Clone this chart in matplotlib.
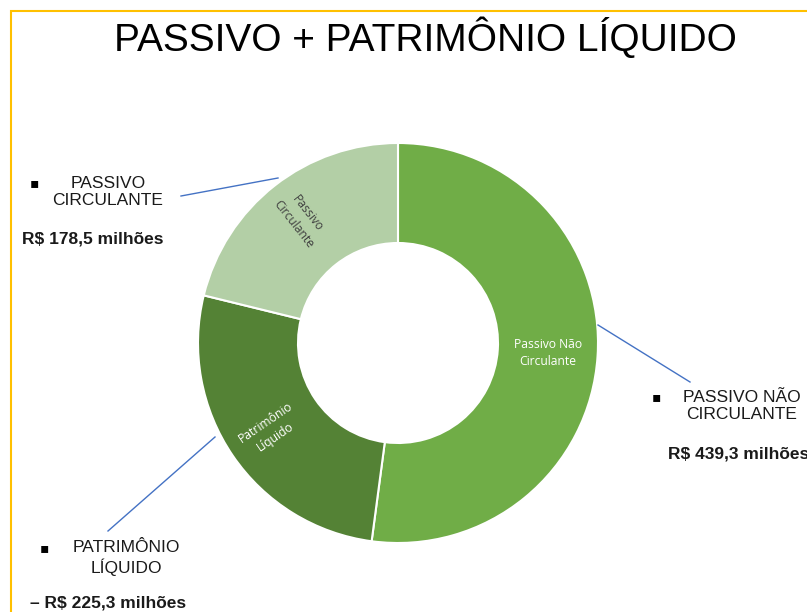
import matplotlib
matplotlib.use("Agg")
import matplotlib.pyplot as plt
from matplotlib.patches import Rectangle
from matplotlib.lines import Line2D
import numpy as np

plt.rcParams['font.family'] = ['Liberation Sans', 'DejaVu Sans']

# data
categories = ['Passivo Não\nCirculante', 'Patrimônio\nLíquido', 'Passivo\nCirculante']
values = [439.3, 225.3, 178.5]
colors = ['#70AD47', '#548235', '#B3CFA6']
label_colors = ['white', 'white', '#404040']
side_titles = ['PASSIVO NÃO\nCIRCULANTE', 'PATRIMÔNIO\nLÍQUIDO', 'PASSIVO\nCIRCULANTE']
side_values = ['R$ 439,3 milhões', '– R$ 225,3 milhões', 'R$ 178,5 milhões']

W, H = 807, 612
fig = plt.figure(figsize=(W / 100, H / 100), dpi=100)


def px(x, y):
    return x / W, 1 - y / H


# yellow frame
fig.patches.append(Rectangle(px(11, 640), 900 / W, 629 / H, transform=fig.transFigure,
                             fill=False, edgecolor='#FFC000', linewidth=1.5))

# donut
cx, cy, R = 398, 343, 200
ax = fig.add_axes([(cx - R) / W, (H - cy - R) / H, 2 * R / W, 2 * R / H])
wedges, _ = ax.pie(values, colors=colors, startangle=90, counterclock=False,
                   radius=1, wedgeprops=dict(width=0.5, edgecolor='white', linewidth=1.5))
ax.set_xlim(-1, 1)
ax.set_ylim(-1, 1)
ax.set_aspect('equal')
ax.axis('off')

# inner labels
radii = [0.75, 0.77, 0.79]
for i, w in enumerate(wedges):
    mid = np.deg2rad((w.theta1 + w.theta2) / 2)
    x, y = radii[i] * np.cos(mid), radii[i] * np.sin(mid)
    rot = 0 if i == 0 else np.rad2deg(mid) - 180
    ax.text(x, y, categories[i], ha='center', va='center', rotation=rot,
            rotation_mode='anchor', color=label_colors[i], fontsize=8.7,
            family=['Open Sans', 'DejaVu Sans'], linespacing=1.45)

# leader lines (figure pixels)
leaders = [((598, 325), (690, 382)), ((215, 437), (108, 531)), ((278, 178), (181, 196))]
for (x0, y0), (x1, y1) in leaders:
    a, b = px(x0, y0), px(x1, y1)
    fig.add_artist(Line2D([a[0], b[0]], [a[1], b[1]], transform=fig.transFigure,
                          color='#4472C4', linewidth=1))

# side annotations
bullets = [(652, 397), (40, 548), (30, 183)]
title_pos = [(742, 406), (126, 558), (108, 192)]
value_pos = [(668, 454), (30, 603), (22, 239)]
for i in range(3):
    fig.text(*px(*bullets[i]), '▪', ha='left', va='center', fontsize=10,
             family=['DejaVu Sans'])
    fig.text(*px(*title_pos[i]), side_titles[i], ha='center', va='center',
             fontsize=12.5, color='#1a1a1a', linespacing=1.2)
    fig.text(*px(*value_pos[i]), side_values[i], ha='left', va='center',
             fontsize=12.5, fontweight='bold', color='#1a1a1a')

fig.text(*px(425, 38), 'PASSIVO + PATRIMÔNIO LÍQUIDO', ha='center', va='center',
         fontsize=28, color='black')

fig.savefig('out.png', dpi=100)
